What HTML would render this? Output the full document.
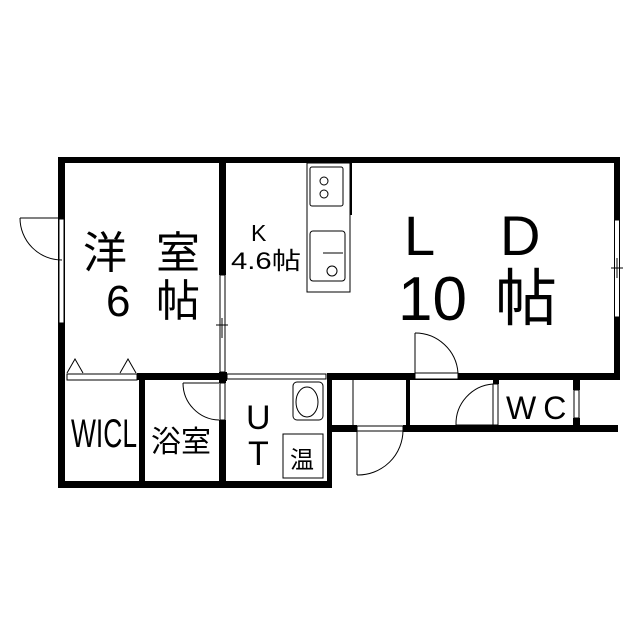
<!DOCTYPE html>
<html><head><meta charset="utf-8"><style>
html,body{margin:0;padding:0;background:#fff;}
svg{display:block}
text{font-family:"Liberation Sans","Noto Sans CJK JP",sans-serif;fill:#000}
</style></head><body>
<svg width="640" height="640" viewBox="0 0 640 640" xmlns="http://www.w3.org/2000/svg">
<rect width="640" height="640" fill="#fff"/>
<g fill="#000">
<rect x="58" y="157" width="562" height="6"/>
<rect x="58" y="157" width="7" height="331"/>
<rect x="58" y="481" width="274" height="7"/>
<rect x="614" y="157" width="6" height="223"/>
<rect x="137" y="373" width="90" height="7"/>
<rect x="327" y="373" width="293" height="7"/>
<rect x="332" y="425" width="25" height="7"/>
<rect x="403" y="425" width="215" height="7"/>
<rect x="219" y="157" width="7" height="118"/>
<rect x="219" y="372" width="8" height="9"/>
<rect x="219" y="380" width="7" height="3"/>
<rect x="219" y="420" width="7" height="68"/>
<rect x="139" y="373" width="6" height="115"/>
<rect x="327" y="373" width="5" height="115"/>
<rect x="345" y="157" width="7" height="58"/>
<rect x="406" y="380" width="4" height="52"/>
<rect x="493" y="380" width="6" height="4"/>
<rect x="573" y="380" width="7" height="10"/>
<rect x="573" y="418" width="7" height="14"/>
</g>
<g fill="#fff" stroke="#000" stroke-width="1">
<rect x="59" y="219" width="5" height="104"/>
<rect x="220" y="275" width="5" height="97"/>
<rect x="614.5" y="220" width="5" height="97"/>
<rect x="574" y="390" width="5" height="28"/>
<rect x="67" y="374" width="70" height="6"/>
<rect x="227" y="374" width="99" height="5"/>
<rect x="220" y="383" width="5" height="37"/>
<rect x="415" y="373" width="43" height="6"/>
<rect x="493" y="384" width="5" height="41"/>
<rect x="357" y="426" width="46" height="5"/>
<rect x="307" y="163" width="43" height="129"/>
<rect x="310" y="167" width="33" height="39" rx="2"/>
<rect x="310" y="231" width="35" height="50" rx="3"/>
<rect x="283" y="434" width="40" height="44"/>
<rect x="293" y="382" width="30" height="38" rx="4"/>
</g>
<g fill="none" stroke="#000" stroke-width="1">
<line x1="222" y1="318" x2="222" y2="338"/><line x1="216" y1="325" x2="228" y2="325"/>
<line x1="617" y1="258" x2="617" y2="278"/><line x1="611" y1="268" x2="623" y2="268"/>
<path d="M20 218 A42 42 0 0 0 62 260"/><line x1="20" y1="218" x2="58" y2="218"/>
<path d="M183 383 A37 37 0 0 0 219 420"/><line x1="183" y1="383" x2="219" y2="383"/>
<path d="M415 333 A43 43 0 0 1 458 373"/><line x1="415" y1="333" x2="415" y2="373"/>
<path d="M456 425 A40 40 0 0 1 493 384"/><line x1="456" y1="425" x2="493" y2="425"/>
<path d="M357 475 A45 45 0 0 0 403 430"/><line x1="357" y1="430" x2="357" y2="475"/>
<line x1="353" y1="380" x2="353" y2="425"/>
<path d="M67 373 L75 359 L83 373 M120 373 L128 359 L136 373"/>
<circle cx="324" cy="181" r="4"/><circle cx="324" cy="194" r="4"/>
<circle cx="332" cy="271" r="5"/><line x1="323" y1="253" x2="343" y2="253"/>
<ellipse cx="307" cy="402" rx="11" ry="15"/>
</g>
<text x="83" y="268" font-size="44">洋</text>
<text x="156" y="268" font-size="44">室</text>
<text x="106" y="316" font-size="44">6</text>
<text x="156" y="316" font-size="44">帖</text>
<text x="251" y="241" font-size="23">K</text>
<text x="231" y="269" font-size="24" textLength="70" lengthAdjust="spacingAndGlyphs">4.6帖</text>
<text x="404" y="255" font-size="56">L</text>
<text x="500" y="255" font-size="56">D</text>
<text x="398" y="320" font-size="62">10</text>
<text x="495" y="320" font-size="62">帖</text>
<text x="71" y="447" font-size="40" textLength="66" lengthAdjust="spacingAndGlyphs">WICL</text>
<text x="151" y="452" font-size="30">浴室</text>
<text x="246" y="429" font-size="34">U</text>
<text x="248" y="465" font-size="34">T</text>
<text x="290" y="468" font-size="24">温</text>
<text x="506" y="419" font-size="32" letter-spacing="7">WC</text>
</svg>
</body></html>
